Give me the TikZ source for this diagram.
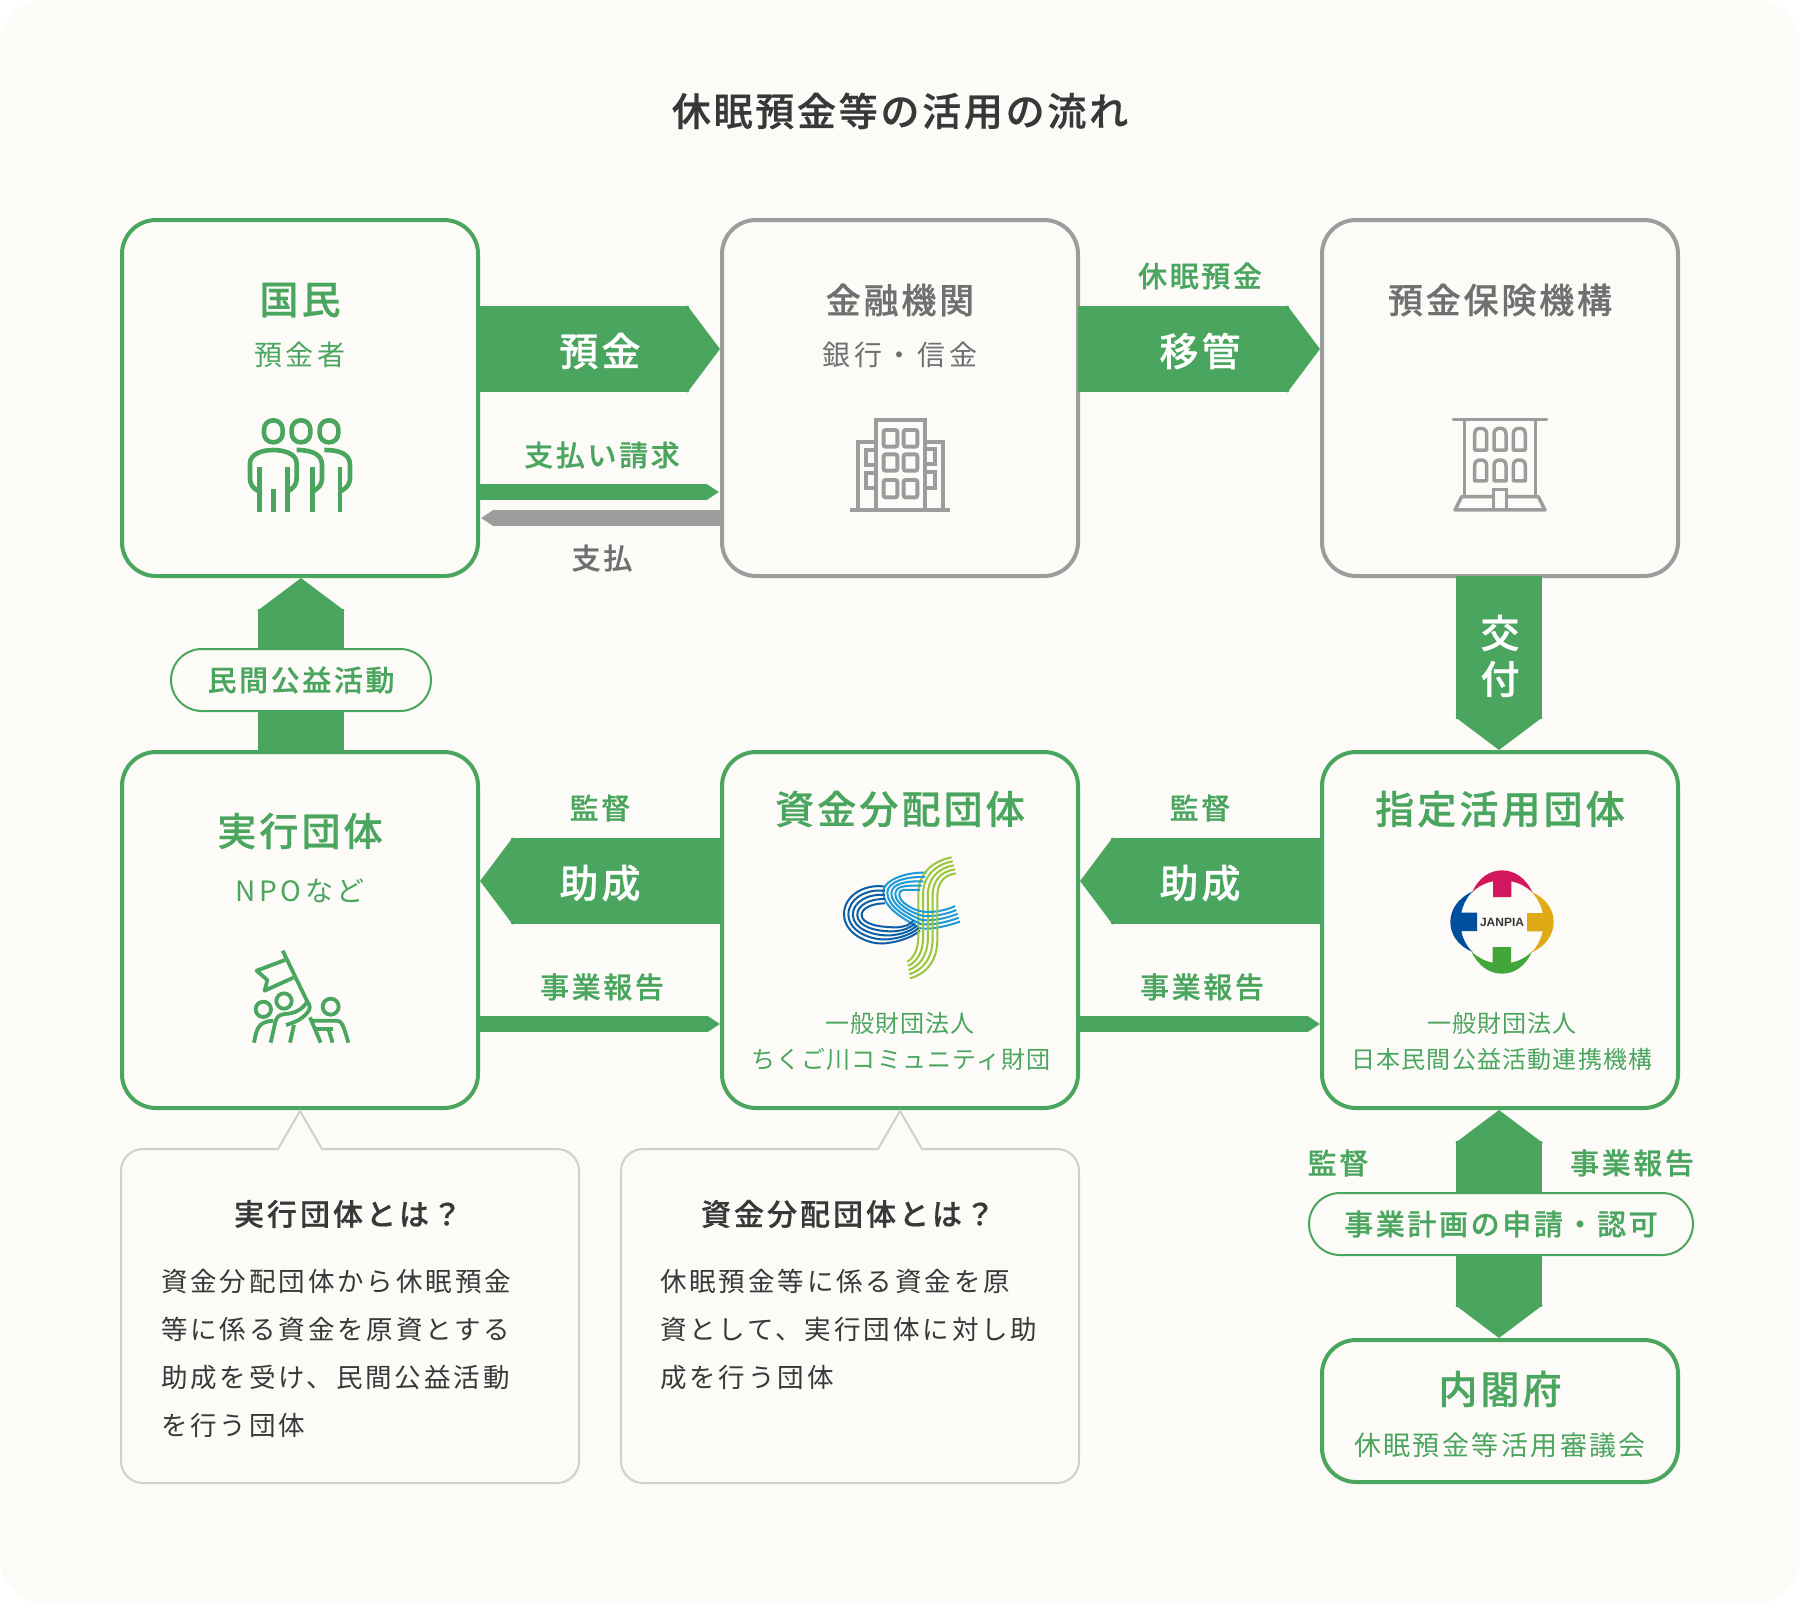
\documentclass[tikz,border=0pt]{standalone}
\usepackage{fontspec}
\usetikzlibrary{arrows.meta,calc}
\setmainfont{Noto Sans CJK JP}[BoldFont={Noto Sans CJK JP Medium},BoldFeatures={FakeBold=0.6}]
\newfontfamily\latinb{Liberation Sans}
\definecolor{pagebg}{HTML}{FCFBF8}
\definecolor{grn}{HTML}{4AA55E}
\definecolor{gry}{HTML}{9C9C9C}
\definecolor{gtx}{HTML}{707070}
\definecolor{dark}{HTML}{383838}
\definecolor{edge}{HTML}{CFCFCF}
\definecolor{ccfa}{HTML}{0B5FA8}
\definecolor{ccfb}{HTML}{1E9AD6}
\definecolor{ccfc}{HTML}{9AC63C}
\newcommand\Fn[2]{\fontsize{#1}{#1}\selectfont\addfontfeature{LetterSpace=#2}}
\tikzset{
 gbox/.style={draw=grn,line width=4pt,rounded corners=34pt,minimum width=356pt,minimum height=356pt,inner sep=0pt,outer sep=0pt},
 ybox/.style={gbox,draw=gry},
 pill/.style={draw=grn,fill=pagebg,line width=2pt,rounded corners=31pt,inner sep=0pt,outer sep=0pt,text=grn},
 txt/.style={inner sep=0pt,outer sep=0pt,align=center},
 bigG/.style={txt,text=grn,font={\bfseries\Fn{39}{8}}},
 bigY/.style={txt,text=gtx,font={\bfseries\Fn{35}{8}}},
 subG/.style={txt,text=grn,font={\Fn{28}{13}}},
 subY/.style={txt,text=gtx,font={\Fn{28}{13}}},
 subH/.style={txt,text=grn,font={\Fn{27}{9}}},
 labG/.style={txt,text=grn,font={\bfseries\Fn{29}{9}}},
 labY/.style={txt,text=gtx,font={\bfseries\Fn{29}{9}}},
 arW/.style={txt,text=white,font={\bfseries\Fn{39}{8}}},
 smG/.style={txt,text=grn,font={\Fn{24}{5}}},
 hd/.style={txt,text=dark,font={\bfseries\Fn{30}{10}}},
 bd/.style={txt,anchor=west,text=dark,font={\Fn{26.5}{11}}},
 big/.style={line width=86pt,draw=grn,-{Triangle[length=33pt,width=86pt]}},
 bigBoth/.style={line width=86pt,draw=grn,{Triangle[length=33pt,width=86pt]}-{Triangle[length=33pt,width=86pt]}},
 thin/.style={line width=16pt,draw=grn,-{Triangle[length=13pt,width=16pt]}},
 thinY/.style={thin,draw=gry},
 ico/.style={draw=grn,line width=4.6pt,line cap=butt,line join=round},
 icoF/.style={draw=grn,line width=3.8pt,line join=round},
 bld/.style={draw=gry,line width=3.9pt,line join=miter},
 bldT/.style={bld,line width=3.5pt},
 callout/.style={draw=edge,line width=2pt},
}
\begin{document}
\begin{tikzpicture}[x=1pt,y=-1pt]
\useasboundingbox (0,0) rectangle (1800,1604);
\fill[white] (0,0) rectangle (1800,1604);
\fill[pagebg,rounded corners=46pt] (0,0) rectangle (1800,1604);

\node[txt,text=dark,font={\bfseries\Fn{39}{7}}] (title) at (900,111) {休眠預金等の活用の流れ};

% boxes
\node[gbox] (kokumin) at (300,398) {};
\node[ybox] (kinyu) at (900,398) {};
\node[ybox] (hoken) at (1500,398) {};
\node[gbox] (jikko) at (300,930) {};
\node[gbox] (shikin) at (900,930) {};
\node[gbox] (shitei) at (1500,930) {};
\node[gbox,minimum height=142pt] (naikaku) at (1500,1411) {};

% connectors
\draw[big] ([yshift=49pt]kokumin.east) -- ([xshift=-2pt,yshift=49pt]kinyu.west);
\draw[big] ([yshift=49pt]kinyu.east) -- ([xshift=-2pt,yshift=49pt]hoken.west);
\draw[thin] ([yshift=-94pt]kokumin.east) -- ([xshift=-3pt,yshift=-94pt]kinyu.west);
\draw[thinY] ([yshift=-120pt]kinyu.west) -- ([xshift=3pt,yshift=-120pt]kokumin.east);
\draw[big] ([xshift=-1pt]hoken.south) -- ([xshift=-1pt,yshift=2pt]shitei.north);
\draw[big] ([xshift=1pt]jikko.north) -- ([xshift=1pt,yshift=-2pt]kokumin.south);
\draw[big] ([yshift=49pt]shikin.west) -- ([xshift=2pt,yshift=49pt]jikko.east);
\draw[big] ([yshift=49pt]shitei.west) -- ([xshift=2pt,yshift=49pt]shikin.east);
\draw[thin] ([yshift=-94pt]jikko.east) -- ([xshift=-2pt,yshift=-94pt]shikin.west);
\draw[thin] ([yshift=-94pt]shikin.east) -- ([xshift=-2pt,yshift=-94pt]shitei.west);
\draw[bigBoth] ([xshift=-1pt,yshift=-2pt]shitei.south) -- ([xshift=-1pt,yshift=2pt]naikaku.north);

% pills
\node[pill,minimum width=260pt,minimum height=62pt] (pillA) at (301,680) {};
\node[labG] (pillAt) at (pillA.center) {民間公益活動};
\node[pill,minimum width=384pt,minimum height=62pt] (pillB) at (1501,1224) {};
\node[labG] (pillBt) at (pillB.center) {事業計画の申請・認可};

% box texts
\node[bigG] (t1) at (300,300) {国民};
\node[subG] (t2) at (300,355) {預金者};
\node[bigY] (t3) at (900,300) {金融機関};
\node[subY] (t4) at (900,355) {銀行・信金};
\node[bigY] (t5) at (1500,300) {預金保険機構};
\node[arW] (t6) at (600,351) {預金};
\node[arW] (t7) at (1200,351) {移管};
\node[labG] (t8) at (1200,276) {休眠預金};
\node[labG] (t9) at (602,455) {支払い請求};
\node[labY] (t10) at (602,558) {支払};
\node[arW] (t11) at (1500,633) {交};
\node[arW] (t12) at (1500,679) {付};
\node[bigG] (t13) at (300,831) {実行団体};
\node[subG] (t14) at (300,891) {NPOなど};
\node[bigG] (t15) at (900,809) {資金分配団体};
\node[bigG] (t16) at (1500,809) {指定活用団体};
\node[labG] (t17) at (600,808) {監督};
\node[labG] (t18) at (1200,808) {監督};
\node[arW] (t19) at (600,883) {助成};
\node[arW] (t20) at (1200,883) {助成};
\node[labG] (t21) at (602,987) {事業報告};
\node[labG] (t22) at (1202,987) {事業報告};
\node[smG] (t23) at (900,1023) {一般財団法人};
\node[smG] (t24) at (901,1059) {ちくご川コミュニティ財団};
\node[smG] (t25) at (1502,1023) {一般財団法人};
\node[smG] (t26) at (1502,1059) {日本民間公益活動連携機構};
\node[labG] (t27) at (1338,1163) {監督};
\node[labG] (t28) at (1632,1163) {事業報告};
\node[bigG] (t29) at (1500,1389) {内閣府};
\node[subH] (t30) at (1500,1445) {休眠預金等活用審議会};

% callouts
\draw[callout] (278,1149) -- (300,1111) -- (322,1149) [rounded corners=22pt] -- (579,1149) -- (579,1483) -- (121,1483) -- (121,1149) [sharp corners] -- cycle;
\draw[callout] (878,1149) -- (900,1111) -- (922,1149) [rounded corners=22pt] -- (1079,1149) -- (1079,1483) -- (621,1483) -- (621,1149) [sharp corners] -- cycle;
\node[hd] (h1) at (348,1214) {実行団体とは？};
\node[hd] (h2) at (848,1214) {資金分配団体とは？};
\node[bd] (b1) at (161,1281) {資金分配団体から休眠預金};
\node[bd] (b2) at (161,1329) {等に係る資金を原資とする};
\node[bd] (b3) at (161,1377) {助成を受け、民間公益活動};
\node[bd] (b4) at (161,1425) {を行う団体};
\node[bd] (b5) at (660,1281) {休眠預金等に係る資金を原};
\node[bd] (b6) at (660,1329) {資として、実行団体に対し助};
\node[bd] (b7) at (660,1377) {成を行う団体};

% people icon
\begin{scope}[shift={(220,390)},x=.3333pt,y=-.3333pt]
 \foreach \c in {160,243,327}{
  \draw[ico,rounded corners=9pt] (\c-28,91) rectangle (\c+28,157);
 }
 \draw[ico] (118,305) .. controls (100,295) and (90,285) .. (90,265) -- (90,220) .. controls (90,190) and (130,180) .. (160,180) .. controls (190,180) and (230,190) .. (230,220) -- (230,265) .. controls (230,285) and (220,295) .. (202,305);
 \draw[ico] (118,230) -- (118,365) (202,230) -- (202,365) (160,297) -- (160,365);
 \draw[ico] (230,180) .. controls (280,180) and (306,195) .. (306,225) -- (306,265) .. controls (306,285) and (295,295) .. (278,305);
 \draw[ico] (278,230) -- (278,365);
 \draw[ico] (313,180) .. controls (365,180) and (390,195) .. (390,225) -- (390,265) .. controls (390,285) and (378,295) .. (360,305);
 \draw[ico] (360,230) -- (360,365);
\end{scope}

% bank icon
\begin{scope}[shift={(820,400)},x=.3333pt,y=-.3333pt]
 \draw[bld,line width=4pt] (90,330) -- (390,330);
 \draw[bld] (168,325) -- (168,60) -- (316,60) -- (316,325);
 \foreach \y/\h in {90/140,163/212,240/292}{
  \draw[bld,rounded corners=2pt] (191,\y) rectangle (232,\h);
  \draw[bld,rounded corners=2pt] (251,\y) rectangle (292,\h);
 }
 \draw[bld] (115,325) -- (115,125) -- (168,125);
 \draw[bld] (316,125) -- (368,125) -- (368,325);
 \draw[bld] (168,150) -- (138,150) -- (138,195) -- (168,195);
 \draw[bld] (168,220) -- (138,220) -- (138,265) -- (168,265);
 \draw[bld] (316,147) -- (345,147) -- (345,192) -- (316,192);
 \draw[bld] (316,215) -- (345,215) -- (345,265) -- (316,265);
\end{scope}

% deposit insurance icon
\begin{scope}[shift={(1430,400)},x=.3333pt,y=-.3333pt]
 \draw[bldT,line cap=round] (70,58) -- (350,58);
 \draw[bldT] (104,58) -- (104,288) (316,58) -- (316,288);
 \foreach \xx in {134,192,250}{
  \foreach \ya/\yb in {85/150,180/243}{
   \draw[bldT,line join=round] (\xx,\yb) -- (\xx,\ya+18) .. controls (\xx,\ya+4) and (\xx+8,\ya) .. (\xx+18,\ya) .. controls (\xx+28,\ya) and (\xx+36,\ya+4) .. (\xx+36,\ya+18) -- (\xx+36,\yb) -- cycle;
  }
 }
 \draw[bldT] (190,330) -- (190,268) -- (230,268) -- (230,330);
 \draw[bldT,line join=round] (190,290) -- (95,290) -- (75,330) -- (345,330) -- (325,290) -- (230,290);
\end{scope}

% flag icon
\begin{scope}[shift={(230,930)},x=.3333pt,y=-.3333pt]
 \draw[icoF] (158,62) -- (232,215) .. controls (243,225) and (240,240) .. (232,248) .. controls (215,268) and (200,275) .. (168,285);
 \draw[icoF] (232,215) .. controls (215,240) and (195,250) .. (165,252) .. controls (145,254) and (138,262) .. (134,285) -- (122,338);
 \draw[icoF] (165,90) -- (80,122) -- (112,150) -- (104,182) -- (190,143);
 \draw[icoF] (100,238) circle[radius=23];
 \draw[icoF] (162,213) circle[radius=23];
 \draw[icoF] (302,230) circle[radius=24];
 \draw[icoF] (72,338) .. controls (80,295) and (85,275) .. (130,272);
 \draw[icoF] (192,285) -- (180,338);
 \draw[icoF] (240,262) -- (272,338);
 \draw[icoF] (242,272) -- (320,272) .. controls (335,272) and (340,285) .. (355,338);
 \draw[icoF] (255,297) -- (310,297);
 \draw[icoF] (295,297) -- (308,338);
\end{scope}

% cc logo
\begin{scope}[shift={(820,840)},x=.3333pt,y=-.3333pt]
 \foreach \t in {0,.25,.5,.75,1}{
  \draw[ccfa,line width=2pt] ({195+0*\t},{140+50*\t}) .. controls ({130+25*\t},{130+60*\t}) and ({70+55*\t},{170+35*\t}) .. ({72+53*\t},{225}) .. controls ({75+50*\t},{285-35*\t}) and ({150+20*\t},{315-53*\t}) .. ({195+35*\t},{310-48*\t}) .. controls ({240+15*\t},{305-45*\t}) and ({275-5*\t},{292-37*\t}) .. ({300-20*\t},{272-30*\t});
  \draw[ccfb,line width=2pt] ({320-20*\t},{98+52*\t}) .. controls ({260-15*\t},{95+55*\t}) and ({190+50*\t},{120+25*\t}) .. ({190+48*\t},{155+10*\t}) .. controls ({190+48*\t},{205-20*\t}) and ({250+25*\t},{235-25*\t}) .. ({300+10*\t},{265-50*\t}) .. controls ({340+5*\t},{270-50*\t}) and ({390+5*\t},{255-50*\t}) .. ({420-15*\t},{245-47*\t});
  \draw[ccfc,line width=2pt] ({395+13*\t},{52+48*\t}) .. controls ({340+30*\t},{62+43*\t}) and ({295+57*\t},{100+30*\t}) .. ({295+57*\t},{160+10*\t}) -- ({295+57*\t},{290+10*\t}) .. controls ({295+57*\t},{330+40*\t}) and ({280+30*\t},{355+50*\t}) .. ({262+8*\t},{365+50*\t});
 }
\end{scope}

% JANPIA logo
\begin{scope}[shift={(1502,922)},x=.3333pt,y=-.3333pt]
 \foreach \r/\co in {0/D3175E,90/004F9F,180/43A63B,270/E0A916}{
  \definecolor{cc}{HTML}{\co}
  \fill[cc,rotate=\r] (-90,-88) .. controls (-70,-135) and (-35,-155) .. (0,-155) .. controls (35,-155) and (70,-135) .. (92,-88) .. controls (75,-105) and (50,-118) .. (28,-122) -- (28,-75) -- (-27,-75) -- (-27,-122) .. controls (-50,-118) and (-75,-105) .. (-90,-88) -- cycle;
 }
\end{scope}
\node[txt,text=dark,font={\latinb\bfseries\Fn{12}{0}}] (janpia) at (1502,922) {JANPIA};
\end{tikzpicture}
\end{document}
